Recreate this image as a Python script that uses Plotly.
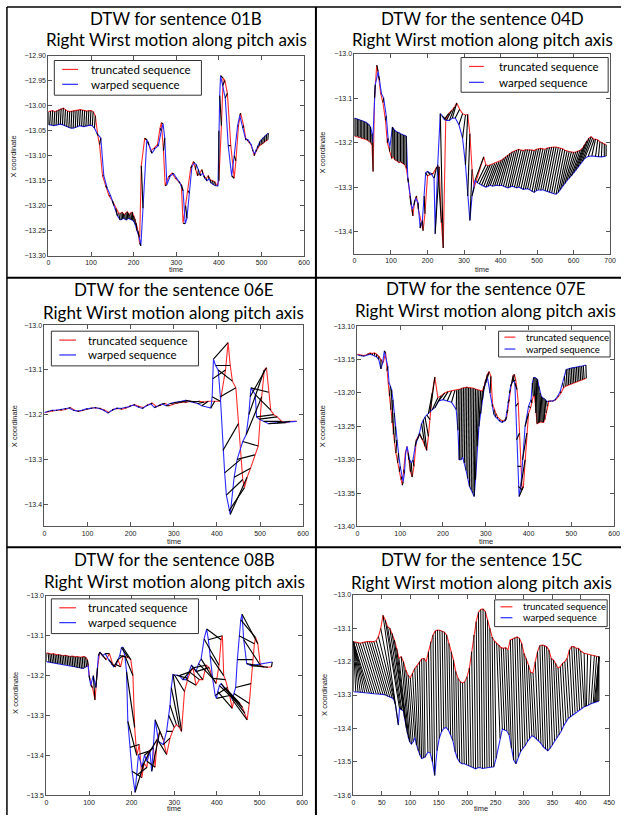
import plotly.graph_objects as go

W, H = 627, 818

# ---------------- data: 01B ----------------
t_red_01B = [0,5,10,15,20,25,30,35,40,45,50,55,60,65,70,75,80,85,90,95,100,105,
             110,116,120,127,134,142,150,158,165,
             170,173,176,179,182,185,188,191,194,197,200,203,206,
             210,214,218,226,
             233,240,248,256,262,265,270,274,282,290,298,306,312,316,322,328,334,340,
             345,350,355,360,365,370,375,380,385,390,396,
             400,406,410,414,420,428,436,440,446,451,458,
             463,467,471,475,479,483,487,491,495,499,503,507,511,515]
v_red_01B = [-13.012,-13.011,-13.010,-13.012,-13.010,-13.008,-13.006,-13.005,-13.008,-13.011,-13.012,-13.011,-13.010,-13.010,-13.009,-13.008,-13.009,-13.010,-13.011,-13.010,-13.010,-13.012,
             -13.020,-13.060,-13.078,-13.140,-13.160,-13.180,-13.190,-13.205,-13.215,
             -13.215,-13.213,-13.216,-13.218,-13.214,-13.212,-13.215,-13.218,-13.214,-13.213,-13.220,-13.226,-13.235,
             -13.250,-13.275,-13.120,-13.065,
             -13.072,-13.090,-13.085,-13.078,-13.045,-13.034,-13.090,-13.160,-13.142,-13.135,-13.145,-13.152,-13.158,-13.235,-13.200,-13.170,-13.125,-13.112,
             -13.128,-13.140,-13.135,-13.128,-13.140,-13.146,-13.140,-13.148,-13.150,-13.152,-13.160,
             -13.150,-13.040,-12.945,-12.950,-12.975,-13.080,-13.145,-13.110,-13.040,-13.015,-13.040,
             -13.065,-13.070,-13.074,-13.078,-13.088,-13.100,-13.092,-13.085,-13.080,-13.078,-13.076,-13.073,-13.070,-13.068]
t_blue_01B = [0,3,8,13,18,23,28,33,38,43,48,53,58,63,68,73,78,83,88,93,98,103,
              108,114,123,130,138,146,154,162,168,
              171,174,177,180,183,186,189,192,195,198,201,204,208,
              213,217,222,231,
              236,243,250,258,265,269,273,278,286,294,301,309,316,321,325,331,337,343,
              347,352,357,362,367,372,377,382,387,392,398,
              400,402,404,409,415,422,430,436,444,449,456,
              463,468,472,476,480,484,488,492,496,500,504,508,512,516]
v_blue_01B = [-13.038,-13.038,-13.039,-13.040,-13.039,-13.038,-13.037,-13.038,-13.040,-13.042,-13.044,-13.045,-13.045,-13.044,-13.042,-13.040,-13.041,-13.042,-13.041,-13.040,-13.039,-13.040,
              -13.045,-13.055,-13.065,-13.140,-13.165,-13.180,-13.200,-13.220,-13.228,
              -13.228,-13.226,-13.225,-13.227,-13.228,-13.226,-13.225,-13.227,-13.228,-13.229,-13.232,-13.238,-13.250,
              -13.262,-13.280,-13.205,-13.068,
              -13.078,-13.095,-13.086,-13.080,-13.050,-13.036,-13.065,-13.158,-13.140,-13.136,-13.145,-13.155,-13.170,-13.236,-13.225,-13.175,-13.120,-13.115,
              -13.118,-13.128,-13.140,-13.135,-13.145,-13.150,-13.146,-13.155,-13.158,-13.160,-13.160,
              -13.050,-12.980,-12.940,-12.960,-12.985,-13.080,-13.140,-13.100,-13.040,-13.020,-13.045,
              -13.068,-13.068,-13.072,-13.078,-13.090,-13.096,-13.088,-13.080,-13.072,-13.068,-13.064,-13.060,-13.058,-13.055]

# ---------------- data: 04D ----------------
t_red_04D = [0,4,8,12,16,20,24,28,32,36,40,44,48,
             51,55,61,66,72,78,85,90,96,102,
             106,110,114,118,122,126,130,134,138,142,
             148,155,160,165,170,175,182,188,193,200,207,215,225,232,238,243,
             250,258,266,274,280,288,296,304,310,316,322,328,
             354,360,366,372,378,384,390,396,402,408,414,420,426,432,438,444,450,456,462,468,
             474,480,486,492,498,504,510,516,522,528,534,540,546,552,558,564,570,576,582,588,
             594,600,606,612,618,624,
             630,636,642,648,652,656,660,666,672,678,684,689]
v_red_04D = [-13.185,-13.186,-13.186,-13.188,-13.188,-13.190,-13.190,-13.192,-13.193,-13.195,-13.197,-13.200,-13.205,
             -13.265,-13.100,-13.026,-13.050,-13.090,-13.110,-13.150,-13.200,-13.220,-13.235,
             -13.232,-13.238,-13.240,-13.242,-13.245,-13.243,-13.246,-13.248,-13.250,-13.258,
             -13.290,-13.340,-13.365,-13.330,-13.320,-13.350,-13.380,-13.398,-13.360,-13.275,-13.272,-13.270,-13.255,-13.255,-13.380,-13.437,
             -13.148,-13.135,-13.128,-13.120,-13.111,-13.125,-13.135,-13.138,-13.137,-13.180,-13.260,-13.300,
             -13.232,-13.250,-13.252,-13.250,-13.249,-13.247,-13.245,-13.243,-13.240,-13.236,-13.232,-13.228,-13.224,-13.221,-13.219,-13.217,-13.215,-13.217,-13.218,-13.216,
             -13.216,-13.216,-13.217,-13.218,-13.215,-13.214,-13.213,-13.214,-13.215,-13.212,-13.211,-13.210,-13.210,-13.210,-13.211,-13.213,-13.214,-13.217,-13.219,-13.220,
             -13.221,-13.222,-13.221,-13.219,-13.217,-13.213,
             -13.205,-13.196,-13.190,-13.187,-13.190,-13.193,-13.192,-13.194,-13.198,-13.200,-13.203,-13.205]
t_blue_04D = [0,4,8,12,16,20,24,28,32,36,40,44,48,
              50,57,65,69,74,80,87,92,97,104,
              106,110,114,118,122,126,130,134,138,142,
              146,152,158,163,168,174,180,186,191,195,200,210,218,221,228,235,
              240,246,252,260,268,276,286,296,304,310,316,322,
              330,336,342,348,354,360,366,372,378,384,390,396,402,408,414,420,426,432,438,444,
              450,456,462,468,474,480,486,492,498,504,510,516,522,528,534,540,546,552,558,564,
              570,576,582,588,594,600,
              606,612,618,624,630,640,650,660,668,676,684,689]
v_blue_04D = [-13.145,-13.146,-13.147,-13.148,-13.150,-13.150,-13.152,-13.153,-13.155,-13.157,-13.160,-13.165,-13.180,
              -13.200,-13.070,-13.040,-13.060,-13.090,-13.100,-13.140,-13.190,-13.210,-13.165,
              -13.168,-13.172,-13.175,-13.176,-13.178,-13.180,-13.182,-13.183,-13.184,-13.186,
              -13.280,-13.320,-13.350,-13.340,-13.325,-13.335,-13.392,-13.375,-13.320,-13.268,-13.265,-13.270,-13.280,-13.405,-13.250,-13.135,
              -13.140,-13.148,-13.150,-13.150,-13.145,-13.145,-13.160,-13.190,-13.250,-13.320,-13.375,-13.320,
              -13.285,-13.290,-13.293,-13.296,-13.298,-13.300,-13.298,-13.296,-13.298,-13.297,-13.296,-13.297,-13.296,-13.298,-13.300,-13.302,-13.300,-13.298,-13.300,-13.302,
              -13.300,-13.303,-13.305,-13.304,-13.304,-13.306,-13.310,-13.312,-13.308,-13.306,-13.307,-13.306,-13.308,-13.310,-13.312,-13.313,-13.315,-13.316,-13.312,-13.305,
              -13.298,-13.292,-13.285,-13.280,-13.275,-13.268,
              -13.262,-13.255,-13.248,-13.242,-13.236,-13.231,-13.230,-13.231,-13.232,-13.232,-13.231,-13.230]

# ---------------- data: 06E ----------------
t_red_06E = [0,10,20,30,40,50,60,70,80,90,100,110,120,130,140,150,160,170,180,190,
             200,210,220,230,240,250,260,270,280,290,300,310,320,330,340,350,360,370,380,
             395,408,420,426,431,436,444,450,455,460,464,470,478,488,496,504,510,515,520,525,532,540,550,560,570,585]
v_red_06E = [-13.195,-13.193,-13.192,-13.190,-13.190,-13.188,-13.184,-13.190,-13.193,-13.190,
             -13.188,-13.185,-13.185,-13.186,-13.190,-13.195,-13.188,-13.186,-13.188,-13.185,
             -13.180,-13.178,-13.182,-13.184,-13.178,-13.174,-13.182,-13.178,-13.175,-13.180,
             -13.176,-13.174,-13.172,-13.172,-13.170,-13.171,-13.170,-13.172,-13.170,
             -13.170,-13.170,-13.100,-13.039,-13.090,-13.125,-13.140,-13.220,-13.300,-13.345,-13.363,-13.340,-13.320,-13.290,-13.270,-13.160,-13.100,-13.095,-13.150,-13.190,-13.200,-13.205,-13.215,-13.218,-13.215,-13.215]
t_blue_06E = [0,7,17,27,37,47,57,67,77,87,97,107,117,127,137,147,157,167,177,187,
              197,207,217,227,237,247,255,264,273,282,291,300,309,318,327,336,345,355,365,
              386,389,390,392,397,403,408,414,418,422,428,431,440,447,460,468,474,477,479,489,492,498,508,520,540,585]
v_blue_06E = [-13.195,-13.193,-13.190,-13.190,-13.188,-13.186,-13.185,-13.190,-13.192,-13.190,
              -13.187,-13.186,-13.184,-13.186,-13.190,-13.196,-13.190,-13.186,-13.186,-13.184,
              -13.182,-13.178,-13.183,-13.186,-13.180,-13.176,-13.184,-13.180,-13.176,-13.180,
              -13.175,-13.173,-13.172,-13.170,-13.168,-13.170,-13.172,-13.175,-13.180,
              -13.185,-13.160,-13.120,-13.076,-13.090,-13.100,-13.160,-13.280,-13.330,-13.380,-13.415,-13.423,-13.340,-13.300,-13.260,-13.245,-13.200,-13.160,-13.140,-13.155,-13.205,-13.210,-13.215,-13.220,-13.218,-13.215]

# ---------------- data: 07E ----------------
t_red_07E = [0,5,10,15,20,25,30,35,40,45,50,55,60,66,
             69,72,75,78,81,84,87,90,94,98,102,105,108,112,116,120,124,128,
             132,138,145,152,158,162,166,170,175,181,188,196,204,212,220,228,
             232,236,240,244,248,252,256,260,264,268,272,276,280,284,288,292,296,300,304,308,312,
             316,320,324,328,334,340,346,
             349,352,355,358,361,364,367,370,373,376,379,382,385,388,392,396,400,405,
             408,411,414,417,420,423,426,429,432,435,438,441,444,448,
             452,458,464,470,476,482,486,490,494,498,502,506,510,514,518,522,526,530,535]
v_red_07E = [-13.142,-13.143,-13.143,-13.144,-13.143,-13.141,-13.140,-13.141,-13.140,-13.142,-13.145,-13.150,-13.155,-13.140,
             -13.167,-13.185,-13.205,-13.225,-13.245,-13.262,-13.275,-13.290,-13.305,-13.318,-13.330,-13.338,-13.315,-13.290,-13.280,-13.300,-13.318,-13.326,
             -13.310,-13.270,-13.262,-13.270,-13.280,-13.286,-13.265,-13.240,-13.200,-13.176,-13.207,-13.204,-13.200,-13.198,-13.197,-13.196,
             -13.196,-13.195,-13.194,-13.193,-13.192,-13.192,-13.191,-13.192,-13.192,-13.193,-13.193,-13.194,-13.195,-13.196,-13.197,-13.197,-13.190,-13.180,-13.172,-13.168,-13.175,
             -13.217,-13.225,-13.231,-13.236,-13.240,-13.242,-13.240,
             -13.236,-13.225,-13.210,-13.195,-13.185,-13.174,-13.172,-13.180,-13.195,-13.215,-13.260,-13.310,-13.345,-13.340,-13.300,-13.260,-13.231,-13.222,
             -13.215,-13.205,-13.204,-13.230,-13.246,-13.245,-13.244,-13.243,-13.244,-13.244,-13.240,-13.230,-13.220,-13.212,
             -13.212,-13.212,-13.210,-13.205,-13.200,-13.192,-13.190,-13.189,-13.188,-13.187,-13.186,-13.185,-13.184,-13.183,-13.182,-13.181,-13.180,-13.179,-13.178]
t_blue_07E = [0,5,10,15,20,25,30,35,40,45,50,55,59,63,
              71,74,77,80,83,86,89,92,96,100,104,107,110,113,116,119,122,126,
              130,135,140,145,150,154,158,162,166,170,175,181,190,200,210,220,
              231,235,238,242,246,250,254,258,262,266,270,273,276,280,284,288,292,296,300,304,310,
              315,319,323,327,332,338,344,
              346,349,352,355,358,361,364,366,368,370,372,374,376,378,382,386,392,400,
              406,409,412,415,418,421,424,427,430,433,436,439,442,446,
              450,456,462,468,474,480,484,488,492,496,500,504,508,512,516,520,524,528,534]
v_blue_07E = [-13.143,-13.144,-13.145,-13.145,-13.144,-13.143,-13.142,-13.143,-13.144,-13.146,-13.150,-13.164,-13.155,-13.137,
              -13.160,-13.185,-13.190,-13.195,-13.210,-13.230,-13.250,-13.270,-13.290,-13.310,-13.325,-13.333,-13.320,-13.290,-13.280,-13.290,-13.300,-13.305,
              -13.300,-13.280,-13.270,-13.260,-13.246,-13.240,-13.236,-13.233,-13.231,-13.228,-13.225,-13.222,-13.212,-13.210,-13.212,-13.214,
              -13.225,-13.256,-13.300,-13.300,-13.296,-13.305,-13.316,-13.328,-13.340,-13.345,-13.350,-13.355,-13.330,-13.280,-13.250,-13.231,-13.210,-13.194,-13.185,-13.177,-13.200,
              -13.220,-13.232,-13.236,-13.238,-13.242,-13.244,-13.242,
              -13.241,-13.230,-13.215,-13.200,-13.190,-13.185,-13.183,-13.182,-13.185,-13.220,-13.270,-13.310,-13.340,-13.355,-13.340,-13.300,-13.250,-13.220,
              -13.210,-13.185,-13.177,-13.177,-13.178,-13.180,-13.190,-13.200,-13.205,-13.207,-13.208,-13.210,-13.212,-13.213,
              -13.212,-13.212,-13.210,-13.205,-13.198,-13.185,-13.175,-13.165,-13.164,-13.163,-13.163,-13.162,-13.162,-13.161,-13.161,-13.160,-13.160,-13.159,-13.158]

# ---------------- data: 08B ----------------
t_red_08B = [0,4,8,12,16,20,24,28,32,36,40,44,48,52,56,60,64,68,72,76,80,84,88,92,96,
             102,108,114,120,125,132,140,148,155,162,168,174,180,186,192,198,
             203,207,212,218,224,229,236,239,245,251,255,260,266,274,282,290,296,
             300,305,312,317,324,332,338,344,351,359,367,375,382,390,398,405,410,413,
             416,420,425,430,436,440,444,448,454,460,466,471,476,480,484,488,491,496,502,510,520,528]
v_red_08B = [-13.143,-13.144,-13.145,-13.146,-13.145,-13.147,-13.148,-13.147,-13.148,-13.149,
             -13.150,-13.149,-13.150,-13.151,-13.152,-13.151,-13.152,-13.153,-13.152,-13.153,
             -13.154,-13.153,-13.152,-13.154,-13.160,
             -13.210,-13.230,-13.261,-13.180,-13.141,-13.150,-13.160,-13.145,-13.170,-13.178,-13.160,-13.178,-13.150,-13.153,-13.155,-13.160,
             -13.200,-13.330,-13.400,-13.373,-13.456,-13.420,-13.430,-13.390,-13.385,-13.381,-13.430,-13.360,-13.340,-13.360,-13.398,-13.357,-13.340,
             -13.330,-13.323,-13.330,-13.340,-13.240,-13.207,-13.190,-13.180,-13.224,-13.210,-13.210,-13.174,-13.180,-13.207,-13.220,-13.174,-13.110,-13.100,
             -13.200,-13.210,-13.230,-13.250,-13.282,-13.260,-13.262,-13.265,-13.270,-13.280,-13.295,-13.311,-13.270,-13.220,-13.160,-13.120,-13.105,-13.120,-13.174,-13.178,-13.179,-13.178]
t_blue_08B = [0,6,10,14,18,22,26,30,34,38,42,46,50,54,58,62,66,70,74,78,82,86,90,94,98,
              100,104,110,116,122,126,132,138,146,152,158,163,168,172,176,179,
              184,188,191,196,201,208,212,216,224,230,236,243,247,255,263,274,282,
              287,290,293,297,300,305,312,320,328,335,340,346,351,357,363,370,376,380,
              384,390,396,399,402,406,410,416,421,426,432,436,440,444,448,452,456,459,463,470,480,530]
v_blue_08B = [-13.165,-13.166,-13.167,-13.168,-13.168,-13.169,-13.170,-13.170,-13.171,-13.172,
              -13.172,-13.173,-13.174,-13.175,-13.176,-13.177,-13.178,-13.179,-13.180,-13.181,
              -13.182,-13.182,-13.180,-13.178,-13.175,
              -13.200,-13.224,-13.200,-13.230,-13.150,-13.142,-13.150,-13.145,-13.160,-13.170,-13.178,-13.172,-13.160,-13.150,-13.130,-13.129,
              -13.150,-13.190,-13.315,-13.380,-13.440,-13.493,-13.450,-13.398,-13.430,-13.400,-13.415,-13.390,-13.440,-13.311,-13.365,-13.373,-13.340,
              -13.300,-13.274,-13.230,-13.197,-13.198,-13.199,-13.200,-13.210,-13.210,-13.190,-13.174,-13.180,-13.190,-13.170,-13.158,-13.108,-13.083,-13.110,
              -13.150,-13.207,-13.250,-13.257,-13.240,-13.225,-13.220,-13.230,-13.232,-13.240,-13.249,-13.260,-13.245,-13.230,-13.160,-13.100,-13.060,-13.046,-13.110,-13.170,-13.175,-13.166]

# ---------------- data: 15C ----------------
t_red_15C = [0,0,0,0,0,0,0,0,
             4,8,12,16,20,24,28,32,36,40,44,48,52,
             56,60,64,68,72,76,80,84,88,92,96,100,104,108,112,116,120,124,
             128,132,136,140,144,148,152,156,160,164,168,172,176,180,184,188,192,196,200,204,
             208,212,216,220,224,228,232,236,240,244,248,
             252,256,260,264,268,272,276,280,284,288,292,296,300,304,308,312,316,320,324,328,
             332,336,340,344,348,352,356,360,364,368,372,376,380,384,388,392,396,
             400,406,412,418,424,428,432,432,432,432,432]
v_red_15C = [-13.140,-13.140,-13.140,-13.140,-13.140,-13.140,-13.140,-13.140,
             -13.142,-13.143,-13.145,-13.143,-13.141,-13.140,-13.140,-13.141,-13.140,-13.137,-13.125,-13.100,-13.061,
             -13.075,-13.095,-13.100,-13.115,-13.135,-13.160,-13.190,-13.185,-13.200,-13.225,-13.240,-13.249,-13.235,-13.220,-13.212,-13.200,-13.192,-13.190,
             -13.200,-13.170,-13.140,-13.120,-13.108,-13.105,-13.106,-13.108,-13.112,-13.120,-13.145,-13.170,-13.195,-13.229,-13.250,-13.260,-13.264,-13.260,-13.245,-13.219,
             -13.170,-13.120,-13.080,-13.052,-13.044,-13.042,-13.050,-13.075,-13.100,-13.126,-13.138,
             -13.145,-13.150,-13.158,-13.160,-13.158,-13.165,-13.135,-13.132,-13.128,-13.126,-13.130,-13.145,-13.175,-13.190,-13.210,-13.232,-13.234,-13.200,-13.170,-13.152,
             -13.150,-13.152,-13.155,-13.165,-13.190,-13.195,-13.205,-13.219,-13.215,-13.205,-13.200,-13.190,-13.165,-13.155,-13.155,-13.160,-13.160,
             -13.168,-13.175,-13.178,-13.180,-13.182,-13.184,-13.185,-13.185,-13.185,-13.185,-13.185]
t_blue_15C = [0,4,8,12,16,20,24,28,
              32,36,40,44,48,52,56,60,64,68,71,74,79,
              81,83,85,88,90,93,95,97,99,102,105,108,111,114,117,120,123,126,
              131,135,139,143,147,151,155,159,163,167,171,175,179,183,187,191,195,199,203,207,
              211,215,219,223,227,231,235,239,243,247,251,
              258,262,266,270,274,278,282,286,290,294,298,302,306,310,314,318,322,326,330,334,
              338,342,346,350,354,358,362,366,370,374,378,382,386,390,394,398,402,
              406,408,410,414,418,422,424,426,428,430,432]
v_blue_15C = [-13.290,-13.290,-13.291,-13.292,-13.292,-13.293,-13.293,-13.294,
              -13.295,-13.296,-13.296,-13.297,-13.298,-13.298,-13.300,-13.304,-13.306,-13.309,-13.313,-13.330,-13.390,
              -13.340,-13.342,-13.345,-13.348,-13.370,-13.400,-13.417,-13.430,-13.440,-13.447,-13.440,-13.427,-13.450,-13.467,-13.480,-13.490,-13.488,-13.486,
              -13.471,-13.474,-13.500,-13.541,-13.467,-13.430,-13.410,-13.400,-13.397,-13.405,-13.420,-13.437,-13.470,-13.490,-13.501,-13.506,-13.506,-13.508,-13.512,-13.515,
              -13.518,-13.521,-13.518,-13.517,-13.520,-13.519,-13.518,-13.516,-13.516,-13.515,-13.490,
              -13.430,-13.402,-13.405,-13.408,-13.420,-13.460,-13.495,-13.506,-13.486,-13.470,-13.460,-13.452,-13.440,-13.430,-13.422,-13.425,-13.432,-13.437,-13.445,-13.455,
              -13.462,-13.467,-13.460,-13.450,-13.437,-13.428,-13.420,-13.407,-13.392,-13.380,-13.370,-13.365,-13.360,-13.353,-13.348,-13.345,-13.340,
              -13.335,-13.334,-13.333,-13.330,-13.326,-13.323,-13.322,-13.321,-13.320,-13.319,-13.318]

# ---------------- tick labels / texts ----------------
xticks_600 = [0, 100, 200, 300, 400, 500, 600]
xticks_700 = [0, 100, 200, 300, 400, 500, 600, 700]
xticks_450 = [0, 50, 100, 150, 200, 250, 300, 350, 400, 450]
yticks_01B = [-13.30, -13.25, -13.20, -13.15, -13.10, -13.05, -13.00, -12.95, -12.90]
yticks_04D = [-13.4, -13.3, -13.2, -13.1, -13.0]
yticks_06E = [-13.4, -13.3, -13.2, -13.1, -13.0]
yticks_07E = [-13.40, -13.35, -13.30, -13.25, -13.20, -13.15, -13.10]
yticks_08B = [-13.5, -13.4, -13.3, -13.2, -13.1, -13.0]
yticks_15C = [-13.6, -13.5, -13.4, -13.3, -13.2, -13.1, -13.0]

titles = ["DTW for sentence 01B", "DTW for the sentence 04D", "DTW for the sentence 06E",
          "DTW for the sentence 07E", "DTW for the sentence 08B", "DTW for the sentence 15C"]
subtitle = "Right Wirst motion along pitch axis"
series_names = ["truncated sequence", "warped sequence"]

# ---------------- layout spec (pixels) ----------------
# leg: (box x0, y0, x1, y1, sample x0, sample x1, text x, red y, blue y, font size)
panels = [
    dict(tr=t_red_01B, vr=v_red_01B, tb=t_blue_01B, vb=v_blue_01B, box=(47, 306, 52, 254),
         xr=[0, 600], xt=xticks_600, yr=[-13.30, -12.90], yt=yticks_01B, fmt=".2f", cw=1.15,
         leg=(53, 57, 202, 92, 61, 77, 88, 66, 81, 11.5), ttl=(15, 36), timey=268, ylab=(12, 154)),
    dict(tr=t_red_04D, vr=v_red_04D, tb=t_blue_04D, vb=v_blue_04D, box=(357, 616, 50, 252),
         xr=[0, 700], xt=xticks_700, yr=[-13.45, -13.0], yt=yticks_04D, fmt=".1f", cw=1.1,
         leg=(465, 54, 614, 89, 473, 488, 501, 63, 79, 11.5), ttl=(15, 36), timey=268, ylab=(325, 150)),
    dict(tr=t_red_06E, vr=v_red_06E, tb=t_blue_06E, vb=v_blue_06E, box=(43, 305, 324, 527),
         xr=[0, 600], xt=xticks_600, yr=[-13.45, -13.0], yt=yticks_06E, fmt=".1f", cw=1.15,
         leg=(50, 330, 199, 365, 58, 75, 85, 339, 354, 11.5), ttl=(288, 311), timey=542, ylab=(13, 426)),
    dict(tr=t_red_07E, vr=v_red_07E, tb=t_blue_07E, vb=v_blue_07E, box=(360, 620, 325, 527),
         xr=[0, 600], xt=xticks_600, yr=[-13.40, -13.10], yt=yticks_07E, fmt=".2f", cw=1.15,
         leg=(503, 330, 616, 356, 509, 520, 529, 336, 348, 9.6), ttl=(287, 309), timey=542, ylab=(325, 426)),
    dict(tr=t_red_08B, vr=v_red_08B, tb=t_blue_08B, vb=v_blue_08B, box=(45, 304, 597, 798),
         xr=[0, 600], xt=xticks_600, yr=[-13.5, -13.0], yt=yticks_08B, fmt=".1f", cw=1.15,
         leg=(50, 600, 199, 635, 58, 75, 85, 609, 624, 11.5), ttl=(560, 582), timey=811, ylab=(13, 695)),
    dict(tr=t_red_15C, vr=v_red_15C, tb=t_blue_15C, vb=v_blue_15C, box=(356, 615, 596, 798),
         xr=[0, 450], xt=xticks_450, yr=[-13.6, -13.0], yt=yticks_15C, fmt=".1f", cw=1.0,
         leg=(499, 601, 613, 628, 505, 517, 526, 608, 619, 9.6), ttl=(560, 583), timey=811, ylab=(326, 697)),
]

TITLE_FONT = "Lato, 'Open Sans', sans-serif"
TICK_FONT = "'Liberation Sans', Arial, sans-serif"
RED = "#ff2a2a"
BLUE = "#2a2aff"

fig = go.Figure()
layout = dict(width=W, height=H, margin=dict(l=0, r=0, t=0, b=0),
              paper_bgcolor="white", plot_bgcolor="white", showlegend=False)
annotations = []
shapes = []


def px(x):
    return x / W


def py(y):
    return 1 - y / H


for i, p in enumerate(panels):
    n = i + 1
    xa = "x" if n == 1 else f"x{n}"
    ya = "y" if n == 1 else f"y{n}"
    assert len(p["tr"]) == len(p["vr"]) == len(p["tb"]) == len(p["vb"]), n
    fig.add_trace(go.Scatter(x=p["tr"], y=p["vr"], mode="lines", name=series_names[0],
                             line=dict(color=RED, width=1.1), xaxis=xa, yaxis=ya))
    fig.add_trace(go.Scatter(x=p["tb"], y=p["vb"], mode="lines", name=series_names[1],
                             line=dict(color=BLUE, width=1.1), xaxis=xa, yaxis=ya))
    cx, cy = [], []
    for a, b, c, d in zip(p["tr"], p["vr"], p["tb"], p["vb"]):
        cx += [a, c, None]
        cy += [b, d, None]
    fig.add_trace(go.Scatter(x=cx, y=cy, mode="lines", name="alignment", hoverinfo="skip",
                             line=dict(color="black", width=p["cw"]), xaxis=xa, yaxis=ya))
    L, R, T, B = p["box"]
    axis_common = dict(showgrid=False, zeroline=False, showline=True, linecolor="#555", linewidth=1,
                       mirror="ticks", ticks="inside", ticklen=4, tickcolor="#555", tickwidth=1,
                       tickfont=dict(family=TICK_FONT, size=7, color="#222"))
    layout["xaxis" if n == 1 else f"xaxis{n}"] = dict(
        domain=[px(L), px(R)], range=p["xr"], tickvals=p["xt"], anchor=ya, **axis_common)
    layout["yaxis" if n == 1 else f"yaxis{n}"] = dict(
        domain=[py(B), py(T)], range=p["yr"], tickvals=p["yt"], tickformat=p["fmt"], anchor=xa, **axis_common)

    # legend box drawn by hand
    bx0, by0, bx1, by1, sx0, sx1, tx, ry, byy, fs = p["leg"]
    shapes.append(dict(type="rect", xref="paper", yref="paper", x0=px(bx0), x1=px(bx1), y0=py(by1), y1=py(by0),
                       line=dict(color="#333", width=1), fillcolor="white", layer="above"))
    for yy, col, name in ((ry, RED, series_names[0]), (byy, BLUE, series_names[1])):
        shapes.append(dict(type="line", xref="paper", yref="paper", x0=px(sx0), x1=px(sx1), y0=py(yy), y1=py(yy),
                           line=dict(color=col, width=1.2), layer="above"))
        annotations.append(dict(text=name, x=px(tx), y=py(yy), xref="paper", yref="paper",
                                xanchor="left", yanchor="middle", showarrow=False,
                                font=dict(family=TITLE_FONT, size=fs, color="black")))

    cxm = (L + R) / 2
    t1, t2 = p["ttl"]
    annotations.append(dict(text=titles[i], x=px(cxm), y=py(t1), xref="paper", yref="paper",
                            xanchor="center", yanchor="middle", showarrow=False,
                            font=dict(family=TITLE_FONT, size=17, color="black")))
    annotations.append(dict(text=subtitle, x=px(cxm), y=py(t2), xref="paper", yref="paper",
                            xanchor="center", yanchor="middle", showarrow=False,
                            font=dict(family=TITLE_FONT, size=17, color="black")))
    annotations.append(dict(text="time", x=px(cxm), y=py(p["timey"]), xref="paper", yref="paper",
                            xanchor="center", yanchor="middle", showarrow=False,
                            font=dict(family=TICK_FONT, size=7.5, color="#222")))
    yx, yy = p["ylab"]
    annotations.append(dict(text="X coordinate", x=px(yx), y=py(yy), xref="paper", yref="paper",
                            xanchor="center", yanchor="middle", showarrow=False, textangle=-90,
                            font=dict(family=TICK_FONT, size=7.5, color="#222")))

# table grid lines
shapes.append(dict(type="line", xref="paper", yref="paper", x0=px(5), x1=px(5), y0=py(3), y1=py(818),
                   line=dict(color="black", width=1.5)))
shapes.append(dict(type="line", xref="paper", yref="paper", x0=px(5), x1=px(627), y0=py(3), y1=py(3),
                   line=dict(color="black", width=1.5)))
shapes.append(dict(type="line", xref="paper", yref="paper", x0=px(318), x1=px(318), y0=py(3), y1=py(818),
                   line=dict(color="black", width=2)))
shapes.append(dict(type="line", xref="paper", yref="paper", x0=px(5), x1=px(627), y0=py(276), y1=py(276),
                   line=dict(color="black", width=2)))
shapes.append(dict(type="line", xref="paper", yref="paper", x0=px(5), x1=px(627), y0=py(548), y1=py(548),
                   line=dict(color="black", width=2)))

layout["annotations"] = annotations
layout["shapes"] = shapes
fig.update_layout(**layout)
fig.write_html("out.html", config={"displayModeBar": False},
               post_script="document.body.style.margin='0';document.body.style.overflow='hidden';")
